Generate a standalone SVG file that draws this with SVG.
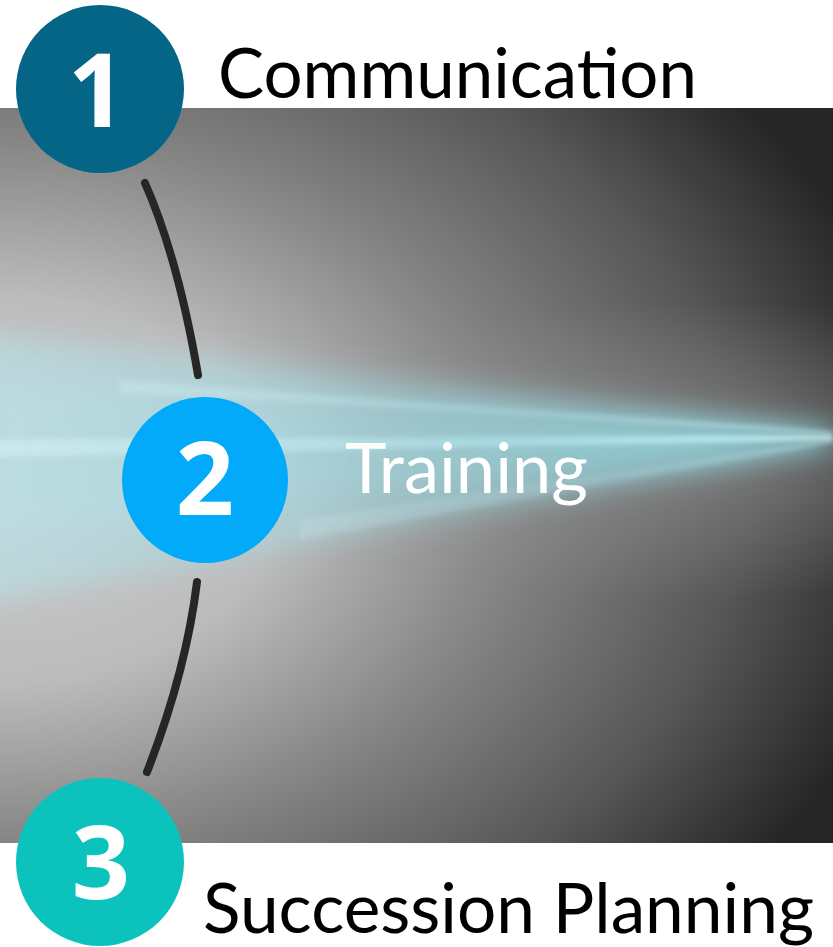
<svg xmlns="http://www.w3.org/2000/svg" width="833" height="947" viewBox="0 0 833 947">
  <style>
    .num { font-family: "Open Sans", "Liberation Sans", sans-serif; font-weight: 700; font-size: 102px; fill: #ffffff; text-anchor: middle; }
    .label { font-family: Lato, "Open Sans", "Liberation Sans", sans-serif; font-size: 70px; }
    .link { fill: none; stroke: #262626; stroke-width: 8; stroke-linecap: round; }
  </style>
  <defs>
    <radialGradient id="bgGrad" gradientUnits="userSpaceOnUse" cx="0" cy="0" r="1" gradientTransform="translate(0 490) scale(930 640)">
      <stop offset="0" stop-color="#cacaca"/>
      <stop offset="0.3" stop-color="#bcbcbc"/>
      <stop offset="0.55" stop-color="#858585"/>
      <stop offset="0.8" stop-color="#565656"/>
      <stop offset="1" stop-color="#262626"/>
    </radialGradient>
    <radialGradient id="glowGrad" gradientUnits="userSpaceOnUse" cx="0" cy="0" r="1" gradientTransform="translate(700 450) scale(420 150)">
      <stop offset="0" stop-color="#9a9a9a" stop-opacity="0.55"/>
      <stop offset="1" stop-color="#9a9a9a" stop-opacity="0"/>
    </radialGradient>
    <linearGradient id="beamGrad" x1="0" y1="0" x2="1" y2="0">
      <stop offset="0" stop-color="#bde3e9" stop-opacity="0.65"/>
      <stop offset="0.5" stop-color="#9fdce6" stop-opacity="0.5"/>
      <stop offset="1" stop-color="#8fdde6" stop-opacity="0.7"/>
    </linearGradient>
    <linearGradient id="streakGrad" x1="0" y1="0" x2="1" y2="0">
      <stop offset="0" stop-color="#d8f2f6" stop-opacity="0.55"/>
      <stop offset="0.6" stop-color="#b8ecf2" stop-opacity="0.5"/>
      <stop offset="1" stop-color="#c8f4f8" stop-opacity="0.9"/>
    </linearGradient>
    <filter id="softBlur" x="-10%" y="-50%" width="120%" height="200%">
      <feGaussianBlur stdDeviation="14"/>
    </filter>
    <filter id="thinBlur" x="-10%" y="-200%" width="120%" height="500%">
      <feGaussianBlur stdDeviation="2.5"/>
    </filter>
    <clipPath id="panelClip">
      <rect x="0" y="108" width="833" height="735"/>
    </clipPath>
  </defs>

  <!-- backdrop panel -->
  <rect x="0" y="108" width="833" height="735" fill="url(#bgGrad)"/>
  <rect x="0" y="108" width="833" height="735" fill="url(#glowGrad)"/>

  <!-- light beams converging to the right edge -->
  <g id="beams" clip-path="url(#panelClip)">
    <polygon points="-80,325 833,430 833,446 -80,615" fill="url(#beamGrad)" filter="url(#softBlur)"/>
    <polygon points="-80,375 833,434 833,442 -80,545" fill="url(#beamGrad)" filter="url(#softBlur)" opacity="0.6"/>
    <polygon points="-40,440 833,435 833,440 -40,458" fill="url(#streakGrad)" filter="url(#thinBlur)"/>
    <polygon points="120,380 833,431 833,435 120,392" fill="url(#streakGrad)" filter="url(#thinBlur)" opacity="0.6"/>
    <polygon points="300,520 833,438 833,443 300,540" fill="url(#streakGrad)" filter="url(#thinBlur)" opacity="0.4"/>
  </g>

  <!-- connectors between steps -->
  <g id="connectors">
    <path class="link" d="M145,183 Q178,258 198,375"/>
    <path class="link" d="M197,582 Q186,672 147,772"/>
  </g>

  <g id="step1">
    <circle cx="100" cy="89" r="84" fill="#046587"/>
    <text class="num" x="97" y="127">1</text>
    <text class="label" x="218" y="98" fill="#000000" textLength="479" lengthAdjust="spacingAndGlyphs">Communication</text>
  </g>

  <g id="step2">
    <circle cx="205" cy="480" r="83" fill="#02aaf9"/>
    <text class="num" x="205" y="515">2</text>
    <text class="label" x="345" y="493" fill="#ffffff" textLength="243" lengthAdjust="spacingAndGlyphs">Training</text>
  </g>

  <g id="step3">
    <circle cx="100" cy="862" r="84" fill="#0bc2bd"/>
    <text class="num" x="101" y="899">3</text>
    <text class="label" x="203" y="933" fill="#000000" textLength="611" lengthAdjust="spacingAndGlyphs">Succession Planning</text>
  </g>
</svg>
